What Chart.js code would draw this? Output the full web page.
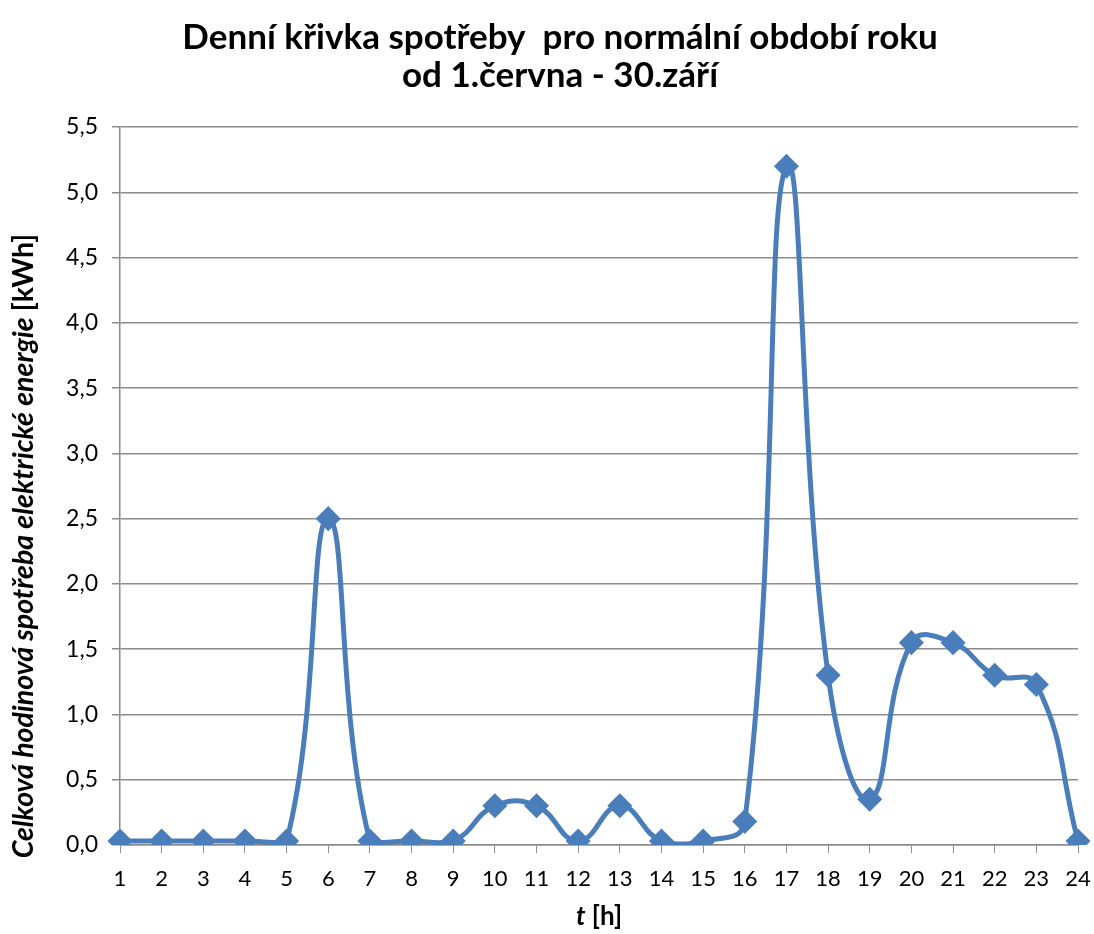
<!DOCTYPE html>
<html>
<head>
<meta charset="utf-8">
<script src="https://cdn.jsdelivr.net/npm/chart.js@4/dist/chart.umd.min.js"></script>
<style>
  html, body { margin: 0; padding: 0; background: #fff; }
  #wrap { width: 1094px; height: 934px; }
</style>
</head>
<body>
<div id="wrap"><canvas id="spotrebaChart" width="1094" height="934"></canvas></div>
<script>
const hours = ['1', '2', '3', '4', '5', '6', '7', '8', '9', '10', '11', '12',
  '13', '14', '15', '16', '17', '18', '19', '20', '21', '22', '23', '24']
const consumption = [0.03, 0.03, 0.03, 0.03, 0.03, 2.5, 0.03, 0.03, 0.03, 0.3, 0.3, 0.03,
  0.3, 0.03, 0.03, 0.18, 5.2, 1.3, 0.35, 1.55, 1.55, 1.3, 1.23, 0.03]
const titleLines = ['Denní křivka spotřeby  pro normální období roku', 'od 1.června - 30.září']
const yTitleParts = [['Celková hodinová spotřeba elektrické energie ', 'italic bold'], ['[kWh]', 'bold']]
const xTitleParts = [['t', 'italic bold'], [' [h]', 'bold']]

const fontFamily = 'Lato, "Open Sans", sans-serif'
const lineBlue = '#4a7ebb'
const gridGray = '#8c8c8c'

// draws a title made of pieces with different font styles
const drawParts = (ctx, parts, size) => {
  let total = 0
  parts.forEach(([text, style]) => {
    ctx.font = `${style} ${size}px ${fontFamily}`
    total += ctx.measureText(text).width
  })
  let x = -total / 2
  parts.forEach(([text, style]) => {
    ctx.font = `${style} ${size}px ${fontFamily}`
    ctx.fillText(text, x, 0)
    x += ctx.measureText(text).width
  })
}

const axisTitles = {
  id: 'axisTitles',
  afterDraw(chart) {
    const { ctx, chartArea } = chart
    ctx.save()
    ctx.fillStyle = '#000'
    ctx.textAlign = 'left'
    ctx.textBaseline = 'middle'

    ctx.save()
    ctx.translate((chartArea.left + chartArea.right) / 2, 917)
    drawParts(ctx, xTitleParts, 26)
    ctx.restore()

    ctx.save()
    ctx.translate(24, 546)
    ctx.rotate(-Math.PI / 2)
    drawParts(ctx, yTitleParts, 28.5)
    ctx.restore()

    ctx.restore()
  }
}

const ctx = document.querySelector('#spotrebaChart')
new Chart(ctx, {
  type: 'line',
  data: {
    labels: hours,
    datasets: [{
      label: 'Spotřeba',
      data: consumption,
      borderColor: lineBlue,
      backgroundColor: lineBlue,
      borderWidth: 5,
      tension: 0.45,
      pointStyle: 'rectRot',
      pointRadius: 9,
      pointHoverRadius: 9,
      pointBackgroundColor: lineBlue,
      pointBorderColor: lineBlue,
      fill: false
    }]
  },
  options: {
    responsive: false,
    animation: false,
    layout: { padding: { left: 26, right: 0, top: 0, bottom: 0 } },
    plugins: {
      legend: { display: false },
      tooltip: { enabled: false },
      title: {
        display: true,
        text: titleLines,
        color: '#000',
        font: { family: fontFamily, size: 35, weight: 'bold', lineHeight: 1.1 },
        padding: { top: 18, bottom: 32 }
      }
    },
    scales: {
      x: {
        offset: false,
        grid: {
          display: true,
          drawOnChartArea: false,
          drawTicks: true,
          tickLength: 8,
          color: gridGray
        },
        border: { color: gridGray, width: 1.5 },
        ticks: {
          color: '#000',
          padding: 13,
          maxRotation: 0,
          autoSkip: false,
          font: { family: fontFamily, size: 22 }
        },
        afterFit: (scale) => {
          scale.height = 89
          // keep the last hour close to the right edge, like the original
          scale.paddingRight = 16
        }
      },
      y: {
        min: 0,
        max: 5.5,
        grid: {
          color: gridGray,
          lineWidth: 1.5,
          tickLength: 8
        },
        border: { color: gridGray, width: 1.5 },
        ticks: {
          stepSize: 0.5,
          color: '#000',
          padding: 14,
          font: { family: fontFamily, size: 23 },
          callback: (value) => value.toFixed(1).replace('.', ',')
        },
        afterFit: (scale) => { scale.width = 94 }
      }
    }
  },
  plugins: [axisTitles]
})
</script>
</body>
</html>
